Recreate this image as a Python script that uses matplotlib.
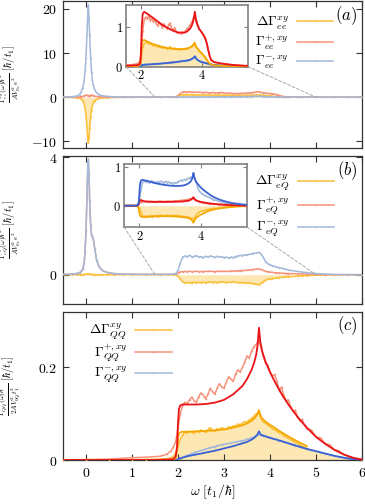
import numpy as np
import matplotlib
matplotlib.use("Agg")
import matplotlib.pyplot as plt
from matplotlib.patches import ConnectionPatch
from matplotlib.ticker import FuncFormatter

plt.rcParams['mathtext.fontset'] = 'cm'
plt.rcParams['font.family'] = 'serif'
plt.rcParams['font.serif'] = ['DejaVu Serif']

# ---- numerical data, panels (a) and (b) ----
w_pre = [-0.5, -0.3, -0.2, -0.14, -0.1, -0.07, -0.04, -0.02, 0.0, 0.02, 0.035, 0.05, 0.065,
         0.08, 0.1, 0.12, 0.14, 0.16, 0.19, 0.23, 0.28, 0.35, 0.45, 0.6, 0.8, 1.0, 1.3, 1.6,
         1.8, 1.9, 1.95, 2.0, 2.05]
w_band = [2.1, 2.15, 2.2, 2.25, 2.3, 2.35, 2.4, 2.45, 2.5, 2.55, 2.6, 2.65, 2.7, 2.75, 2.8,
          2.85, 2.9, 2.95, 3.0, 3.05, 3.1, 3.15, 3.2, 3.25, 3.3, 3.35, 3.4, 3.45, 3.5, 3.55,
          3.6, 3.65, 3.7, 3.75, 3.8, 3.85, 3.9, 3.95, 4.0, 4.05, 4.1, 4.15, 4.2, 4.25, 4.3,
          4.35, 4.4]
w_tail = [4.6, 4.7, 4.8, 5.0, 5.2, 5.4, 5.7, 6.0]

# panel (a): Delta, Gamma+, Gamma-
oa_pre = [0, -0.05, -0.12, -0.25, -0.45, -0.8, -1.5, -2.5, -4.2, -6.8, -9.0, -10.3, -9.2,
          -7.0, -4.5, -2.8, -1.8, -1.2, -0.75, -0.45, -0.28, -0.16, -0.09, -0.05, -0.02,
          -0.01, 0, 0.005, 0.01, 0.02, 0.05, 0.2, 0.5]
oa_band = [0.58, 0.62, 0.6, 0.57, 0.6, 0.55, 0.53, 0.56, 0.52, 0.5, 0.53, 0.49, 0.47, 0.5,
           0.48, 0.45, 0.47, 0.5, 0.46, 0.44, 0.47, 0.43, 0.45, 0.42, 0.44, 0.45, 0.43, 0.46,
           0.45, 0.47, 0.48, 0.5, 0.53, 0.57, 0.5, 0.44, 0.4, 0.36, 0.32, 0.27, 0.22, 0.17,
           0.12, 0.08, 0.05, 0.04, 0.03]
oa_tail = [0.02, 0.015, 0.01, 0.005, 0, 0, 0, 0]

ra_pre = [0.02, 0.03, 0.06, 0.09, 0.14, 0.2, 0.3, 0.4, 0.48, 0.5, 0.4, 0.32, 0.3, 0.35, 0.45,
          0.5, 0.45, 0.35, 0.25, 0.18, 0.12, 0.08, 0.05, 0.03, 0.02, 0.02, 0.03, 0.04, 0.06,
          0.08, 0.12, 0.35, 0.9]
ra_band = [1.18, 1.25, 1.2, 1.28, 1.15, 1.22, 1.12, 1.18, 1.08, 1.02, 1.12, 1.05, 0.98, 1.08,
           1.0, 0.95, 1.05, 1.1, 0.96, 0.9, 0.98, 0.88, 0.84, 0.86, 0.83, 0.88, 0.86, 0.9,
           0.95, 0.98, 1.05, 1.1, 1.2, 1.3, 1.12, 1.02, 0.95, 0.9, 0.84, 0.78, 0.7, 0.58,
           0.42, 0.26, 0.17, 0.13, 0.11]
ra_tail = [0.08, 0.07, 0.06, 0.04, 0.03, 0.02, 0.015, 0.01]

ba_pre = [0.05, 0.12, 0.3, 0.6, 1.3, 2.2, 3.8, 6.0, 9.0, 14.0, 18.0, 21.0, 18.0, 14.0, 9.0,
          5.8, 3.8, 2.7, 1.7, 1.0, 0.6, 0.35, 0.2, 0.1, 0.06, 0.04, 0.03, 0.02, 0.02, 0.02,
          0.02, 0.03, 0.04]
ba_band = [0.05, 0.06, 0.05, 0.06, 0.06, 0.07, 0.06, 0.07, 0.07, 0.08, 0.07, 0.08, 0.08, 0.09,
           0.09, 0.09, 0.1, 0.1, 0.11, 0.1, 0.11, 0.12, 0.12, 0.13, 0.13, 0.14, 0.14, 0.15,
           0.15, 0.16, 0.17, 0.19, 0.21, 0.24, 0.2, 0.16, 0.14, 0.12, 0.11, 0.1, 0.09, 0.08,
           0.07, 0.06, 0.05, 0.05, 0.04]
ba_tail = [0.03, 0.02, 0.015, 0.01, 0.01, 0.005, 0, 0]

# panel (b)
ob_pre = [0, 0, 0, 0, 0.005, 0.005, 0.01, 0.01, 0.015, 0.02, 0.025, 0.03, 0.025, 0.02, 0.015,
          0.01, 0.01, 0.005, 0.005, 0, 0, 0, 0, 0, 0, 0, 0, 0, 0, -0.005, -0.01, -0.05, -0.15]
ob_band = [-0.25, -0.28, -0.26, -0.29, -0.27, -0.25, -0.28, -0.26, -0.27, -0.25, -0.28, -0.26,
           -0.24, -0.27, -0.25, -0.27, -0.24, -0.26, -0.25, -0.27, -0.25, -0.26, -0.24, -0.26,
           -0.27, -0.26, -0.28, -0.27, -0.29, -0.28, -0.3, -0.31, -0.32, -0.34, -0.3, -0.24,
           -0.19, -0.16, -0.14, -0.13, -0.12, -0.11, -0.1, -0.09, -0.08, -0.075, -0.07]
ob_tail = [-0.05, -0.04, -0.03, -0.02, -0.01, -0.005, 0, 0]

rb_pre = [0.01, 0.02, 0.04, 0.07, 0.12, 0.2, 0.4, 0.8, 1.5, 2.6, 3.5, 3.9, 3.4, 2.5, 1.7,
          1.35, 1.28, 1.2, 0.88, 0.5, 0.28, 0.15, 0.08, 0.04, 0.02, 0.015, 0.01, 0.01, 0.01,
          0.02, 0.03, 0.06, 0.1]
rb_band = [0.1, 0.11, 0.1, 0.12, 0.1, 0.11, 0.12, 0.1, 0.11, 0.1, 0.12, 0.11, 0.12, 0.11, 0.1,
           0.12, 0.11, 0.12, 0.11, 0.12, 0.11, 0.13, 0.12, 0.13, 0.13, 0.14, 0.14, 0.15, 0.15,
           0.16, 0.17, 0.18, 0.19, 0.2, 0.18, 0.15, 0.12, 0.1, 0.09, 0.08, 0.07, 0.06, 0.06,
           0.05, 0.05, 0.04, 0.04]
rb_tail = [0.03, 0.025, 0.02, 0.01, 0.005, 0, 0, 0]

bb_pre = [0.01, 0.02, 0.04, 0.07, 0.12, 0.2, 0.4, 0.8, 1.5, 2.6, 3.5, 3.95, 3.4, 2.5, 1.7,
          1.35, 1.3, 1.22, 0.9, 0.5, 0.28, 0.15, 0.08, 0.04, 0.02, 0.015, 0.01, 0.01, 0.01,
          0.02, 0.04, 0.15, 0.4]
bb_band = [0.6, 0.64, 0.62, 0.66, 0.6, 0.63, 0.65, 0.6, 0.62, 0.58, 0.63, 0.6, 0.64, 0.62,
           0.59, 0.63, 0.6, 0.62, 0.58, 0.6, 0.57, 0.6, 0.58, 0.62, 0.64, 0.66, 0.65, 0.68,
           0.67, 0.7, 0.71, 0.73, 0.74, 0.76, 0.72, 0.6, 0.45, 0.38, 0.34, 0.31, 0.28, 0.26,
           0.24, 0.22, 0.2, 0.18, 0.16]
bb_tail = [0.11, 0.09, 0.07, 0.04, 0.02, 0.01, 0.005, 0]

# ---- theory curves (smooth), shared grid ----
w_th = [-0.5, 1.0, 1.5, 1.8, 1.9, 1.95, 1.98, 2.0, 2.02, 2.05, 2.1, 2.2, 2.4, 2.6, 2.8, 3.0,
        3.2, 3.4, 3.5, 3.6, 3.66, 3.7, 3.73, 3.76, 3.79, 3.83, 3.9, 4.0, 4.1, 4.15, 4.2,
        4.25, 4.3, 4.4, 4.6, 4.8, 5.0, 5.2, 5.4, 5.6, 5.8, 6.0]
ra_th = [0, 0.01, 0.02, 0.03, 0.04, 0.06, 0.15, 0.5, 1.0, 1.33, 1.38, 1.33, 1.22, 1.1, 1.0,
         0.92, 0.86, 0.85, 0.88, 0.95, 1.03, 1.12, 1.22, 1.38, 1.22, 1.1, 0.95, 0.85, 0.72,
         0.6, 0.42, 0.25, 0.16, 0.11, 0.08, 0.06, 0.04, 0.03, 0.02, 0.015, 0.01, 0.01]
oa_th = [0, 0, 0.005, 0.01, 0.015, 0.03, 0.08, 0.3, 0.55, 0.66, 0.67, 0.63, 0.56, 0.51, 0.47,
         0.45, 0.44, 0.44, 0.45, 0.48, 0.51, 0.54, 0.57, 0.6, 0.52, 0.47, 0.4, 0.32, 0.24,
         0.18, 0.12, 0.07, 0.05, 0.03, 0.02, 0.01, 0.005, 0, 0, 0, 0, 0]
ba_th = [0, 0, 0, 0, 0, 0, 0.01, 0.02, 0.03, 0.04, 0.045, 0.05, 0.06, 0.07, 0.085, 0.1, 0.12,
         0.14, 0.15, 0.17, 0.19, 0.21, 0.23, 0.26, 0.22, 0.18, 0.14, 0.11, 0.09, 0.08, 0.07,
         0.06, 0.05, 0.04, 0.025, 0.015, 0.01, 0.005, 0, 0, 0, 0]
bb_th = [0, 0, 0, 0, 0, 0.02, 0.08, 0.3, 0.55, 0.65, 0.67, 0.65, 0.61, 0.57, 0.54, 0.52, 0.51,
         0.52, 0.54, 0.58, 0.62, 0.67, 0.74, 0.85, 0.72, 0.64, 0.56, 0.47, 0.4, 0.37, 0.34,
         0.31, 0.28, 0.23, 0.16, 0.11, 0.07, 0.05, 0.03, 0.02, 0.01, 0.005]
rb_th = [0, 0, 0, 0, 0, 0.01, 0.04, 0.1, 0.14, 0.15, 0.13, 0.11, 0.1, 0.1, 0.1, 0.1, 0.105,
         0.11, 0.12, 0.13, 0.15, 0.17, 0.19, 0.22, 0.17, 0.14, 0.12, 0.1, 0.085, 0.08, 0.07,
         0.065, 0.06, 0.05, 0.035, 0.025, 0.015, 0.01, 0.005, 0, 0, 0]
ob_th = [0, 0, 0, 0, 0, -0.02, -0.08, -0.18, -0.25, -0.28, -0.29, -0.29, -0.28, -0.27, -0.27,
         -0.27, -0.28, -0.29, -0.3, -0.32, -0.34, -0.37, -0.4, -0.44, -0.38, -0.33, -0.28,
         -0.23, -0.19, -0.17, -0.15, -0.14, -0.12, -0.1, -0.07, -0.05, -0.03, -0.02, -0.01,
         -0.005, 0, 0]
rc_th = [0, 0, 0, 0.001, 0.002, 0.008, 0.03, 0.08, 0.11, 0.118, 0.12, 0.12, 0.12, 0.121,
         0.124, 0.13, 0.142, 0.16, 0.175, 0.195, 0.212, 0.228, 0.248, 0.286, 0.255, 0.235,
         0.213, 0.19, 0.17, 0.161, 0.152, 0.143, 0.135, 0.12, 0.093, 0.07, 0.05, 0.035,
         0.022, 0.012, 0.005, 0.001]
oc_th = [0, 0, 0, 0, 0, 0.005, 0.02, 0.045, 0.057, 0.06, 0.061, 0.061, 0.062, 0.063, 0.064,
         0.066, 0.07, 0.075, 0.079, 0.085, 0.09, 0.095, 0.1, 0.108, 0.097, 0.09, 0.083, 0.076,
         0.07, 0.066, 0.063, 0.06, 0.057, 0.051, 0.04, 0.03,
         np.nan, np.nan, np.nan, np.nan, np.nan, np.nan]
bc_th = [0, 0, 0, 0, 0, 0, 0.001, 0.002, 0.003, 0.004, 0.005, 0.008, 0.012, 0.016, 0.02,
         0.025, 0.03, 0.036, 0.039, 0.044, 0.048, 0.052, 0.056, 0.062, 0.056, 0.053, 0.051,
         0.048, 0.045, 0.044, 0.042, 0.041, 0.039, 0.036, 0.03, 0.024, 0.019, 0.014, 0.009,
         0.005, 0.002, 0]

# ---- numerical data, panel (c) ----
wc_pre = [-0.5, 0.0, 0.5, 1.0, 1.3, 1.6, 1.75, 1.85, 1.9, 1.95, 2.0, 2.05]
wc_band = [2.1, 2.15, 2.2, 2.25, 2.3, 2.35, 2.4, 2.45, 2.5, 2.55, 2.6, 2.65, 2.7, 2.75, 2.8,
           2.85, 2.9, 2.95, 3.0, 3.05, 3.1, 3.15, 3.2, 3.25, 3.3, 3.35, 3.4, 3.45, 3.5, 3.55,
           3.6, 3.65, 3.7, 3.75, 3.8, 3.85, 3.9, 3.95, 4.0, 4.05, 4.1, 4.15, 4.2, 4.25, 4.3,
           4.35, 4.4, 4.45, 4.5, 4.55, 4.6, 4.65, 4.7, 4.75, 4.8]
wc_tail = [4.9, 5.0, 5.1, 5.2, 5.3, 5.4, 5.5, 5.6, 5.7, 5.8, 5.9, 6.0]
rc_pre = [0, 0.001, 0.002, 0.005, 0.006, 0.008, 0.012, 0.02, 0.028, 0.04, 0.07, 0.1]
rc_band = [0.118, 0.125, 0.122, 0.13, 0.136, 0.128, 0.125, 0.137, 0.145, 0.14, 0.132, 0.142,
           0.155, 0.148, 0.142, 0.155, 0.165, 0.158, 0.155, 0.168, 0.18, 0.175, 0.17, 0.185,
           0.195, 0.19, 0.2, 0.212, 0.225, 0.22, 0.235, 0.245, 0.25, 0.258, 0.245, 0.225,
           0.21, 0.205, 0.19, 0.182, 0.185, 0.17, 0.15, 0.158, 0.14, 0.128, 0.13, 0.115,
           0.105, 0.108, 0.092, 0.085, 0.088, 0.075, 0.068]
rc_tail = [0.065, 0.05, 0.048, 0.035, 0.033, 0.022, 0.02, 0.012, 0.008, 0.005, 0.002, 0.001]
oc_pre = [0, 0, 0, 0.001, 0.001, 0.002, 0.003, 0.005, 0.008, 0.015, 0.03, 0.045]
oc_band = [0.055, 0.06, 0.058, 0.062, 0.06, 0.058, 0.063, 0.06, 0.065, 0.062, 0.06, 0.066,
           0.07, 0.064, 0.063, 0.068, 0.066, 0.07, 0.068, 0.066, 0.072, 0.07, 0.074, 0.073,
           0.078, 0.076, 0.08, 0.083, 0.082, 0.087, 0.09, 0.095, 0.1, 0.103, 0.09, 0.082,
           0.08, 0.075, 0.072, 0.068, 0.066, 0.062, 0.058, 0.057, 0.052, 0.05, 0.047, 0.044,
           0.042, 0.038, 0.036, 0.033, 0.03, 0.028, 0.025]
oc_tail = [0.021, 0.018, 0.015, 0.013, 0.011, 0.008, 0.006, 0.004, 0.003, 0.002, 0.001, 0]
bc_pre = [0, 0, 0, 0, 0, 0, 0, 0, 0, 0, 0.001, 0.003]
bc_band = [0.006, 0.008, 0.01, 0.012, 0.014, 0.016, 0.018, 0.019, 0.021, 0.022, 0.024, 0.025,
           0.027, 0.028, 0.029, 0.031, 0.032, 0.033, 0.034, 0.035, 0.036, 0.037, 0.038, 0.039,
           0.04, 0.041, 0.042, 0.043, 0.045, 0.046, 0.048, 0.05, 0.052, 0.054, 0.055, 0.054,
           0.052, 0.05, 0.048, 0.047, 0.045, 0.044, 0.042, 0.041, 0.039, 0.038, 0.036, 0.035,
           0.033, 0.031, 0.03, 0.028, 0.027, 0.025, 0.024]
bc_tail = [0.021, 0.019, 0.016, 0.014, 0.011, 0.009, 0.007, 0.005, 0.003, 0.002, 0.001, 0]

labels_a = [r'$\Delta\Gamma^{xy}_{ee}$', r'$\Gamma^{+,xy}_{ee}$', r'$\Gamma^{-,xy}_{ee}$']
labels_b = [r'$\Delta\Gamma^{xy}_{eQ}$', r'$\Gamma^{+,xy}_{eQ}$', r'$\Gamma^{-,xy}_{eQ}$']
labels_c = [r'$\Delta\Gamma^{xy}_{QQ}$', r'$\Gamma^{+,xy}_{QQ}$', r'$\Gamma^{-,xy}_{QQ}$']

# colours
C_O, C_R, C_B = '#fbc03a', '#f7927a', '#a3b9da'      # numerical (light)
T_O, T_R, T_B = '#f5a800', '#ea1418', '#3a62d2'      # theory (dark)
FILL = '#fde8b4'
FRAME = '#333333'

w_ab = np.array(w_pre + w_band + w_tail)
w_c = np.array(wc_pre + wc_band + wc_tail)
w_t = np.array(w_th)

mfmt = FuncFormatter(lambda v, p: f"${v:g}$")


def style(ax, frame=FRAME, lw=0.9, size=10, length=4):
    for s in ax.spines.values():
        s.set_color(frame)
        s.set_linewidth(lw)
    ax.tick_params(direction='in', top=True, right=True, length=length, width=0.8,
                   color=frame, labelsize=size, pad=4)
    ax.xaxis.set_major_formatter(mfmt)
    ax.yaxis.set_major_formatter(mfmt)


def numeric(ax, w, o, r, b, order=('o', 'r', 'b'), o_mask=None):
    ax.fill_between(w, 0, o, color=FILL, lw=0, zorder=1)
    kw = dict(lw=1.1, marker='.', ms=2.2, mew=0)
    wo, oo = (w, o) if o_mask is None else (w[o_mask], np.asarray(o)[o_mask])
    h = {}
    h['o'], = ax.plot(wo, oo, color=C_O, zorder=2 + order.index('o'), **kw)
    h['r'], = ax.plot(w, r, color=C_R, zorder=2 + order.index('r'), **kw)
    h['b'], = ax.plot(w, b, color=C_B, zorder=2 + order.index('b'), **kw)
    return [h['o'], h['r'], h['b']]


def theory(ax, o, r, b, order=('b', 'o', 'r')):
    for key, y, c in (('o', o, T_O), ('r', r, T_R), ('b', b, T_B)):
        ax.plot(w_t, y, color=c, lw=1.3, zorder=6 + order.index(key))


def legend(ax, handles, labels, anchor, spacing=0.15):
    ax.legend(handles, labels, loc='upper left', bbox_to_anchor=anchor, frameon=False,
              markerfirst=False, handlelength=2.6, handletextpad=0.6, labelspacing=spacing,
              borderaxespad=0.2, fontsize=10, numpoints=1)


fig = plt.figure(figsize=(3.65, 5.04), dpi=100)
axA = fig.add_axes([0.1726, 0.7063, 0.8192, 0.2917])
axB = fig.add_axes([0.1726, 0.3968, 0.8192, 0.2937])
axC = fig.add_axes([0.1726, 0.0873, 0.8192, 0.2937])
inA = fig.add_axes([0.345, 0.868, 0.334, 0.122])
inB = fig.add_axes([0.3397, 0.5496, 0.337, 0.125])

oa = oa_pre + oa_band + oa_tail
ra = ra_pre + ra_band + ra_tail
ba = ba_pre + ba_band + ba_tail
ob = ob_pre + ob_band + ob_tail
rb = rb_pre + rb_band + rb_tail
bb = bb_pre + bb_band + bb_tail

YL = 7.5
YX = -0.135

# panel (a)
hA = numeric(axA, w_ab, oa, ra, ba)
axA.set_xlim(-0.5, 6)
axA.set_ylim(-11.5, 21.8)
axA.set_xticks(range(7))
axA.set_yticks([-10, 0, 10, 20])
style(axA)
axA.tick_params(labelbottom=False)
axA.set_ylabel(r'$\frac{\Gamma^{xy}_{ee}(\omega)\hbar^2}{AV_{0e}^2e^2}\ [\hbar/t_1]$', fontsize=YL)
axA.yaxis.set_label_coords(YX, 0.5)
axA.text(0.985, 0.9, r'$(a)$', transform=axA.transAxes, ha='right', va='center', fontsize=12)
legend(axA, hA, labels_a, (0.615, 0.965))

numeric(inA, w_ab, oa, ra, ba)
theory(inA, oa_th, ra_th, ba_th)
inA.set_xlim(1.5, 5.5)
inA.set_ylim(0, 1.55)
inA.set_xticks([2, 4])
inA.set_yticks([0, 1])
style(inA, frame='#808080', lw=1.2, size=9, length=3)
inA.tick_params(pad=2)

# panel (b)
hB = numeric(axB, w_ab, ob, rb, bb, order=('o', 'r', 'b'))
axB.set_xlim(-0.5, 6)
axB.set_ylim(-1.0, 4.05)
axB.set_xticks(range(7))
axB.set_yticks([0, 4])
style(axB)
axB.tick_params(labelbottom=False)
axB.set_ylabel(r'$\frac{\Gamma^{xy}_{eQ}(\omega)\hbar^2}{AV_{0e}^2e^2}\ [\hbar/t_1]$', fontsize=YL)
axB.yaxis.set_label_coords(YX, 0.5)
axB.text(0.985, 0.9, r'$(b)$', transform=axB.transAxes, ha='right', va='center', fontsize=12)
legend(axB, hB, labels_b, (0.615, 0.94))

numeric(inB, w_ab, ob, rb, bb)
theory(inB, ob_th, rb_th, bb_th, order=('o', 'r', 'b'))
inB.set_xlim(1.5, 5.5)
inB.set_ylim(-0.55, 1.08)
inB.set_xticks([2, 4])
inB.set_yticks([0, 1])
style(inB, frame='#808080', lw=1.2, size=9, length=3)
inB.tick_params(pad=2)

# panel (c)
oc = oc_pre + oc_band + oc_tail
rc = rc_pre + rc_band + rc_tail
bc = bc_pre + bc_band + bc_tail
hC = numeric(axC, w_c, oc, rc, bc, order=('b', 'o', 'r'), o_mask=w_c <= 4.85)
theory(axC, oc_th, rc_th, bc_th)
axC.set_xlim(-0.5, 6)
axC.set_ylim(0, 0.32)
axC.set_xticks(range(7))
axC.set_yticks([0, 0.2])
style(axC)
axC.set_xlabel(r'$\omega\ [t_1/\hbar]$', fontsize=10, labelpad=2)
axC.set_ylabel(r'$\frac{\Gamma^{xy}_{QQ}(\omega)\hbar^2}{2AV_{0Q}^2t_1^2}\ [\hbar/t_1]$', fontsize=YL)
axC.yaxis.set_label_coords(YX, 0.5)
axC.text(0.985, 0.905, r'$(c)$', transform=axC.transAxes, ha='right', va='center', fontsize=12)
legend(axC, hC, labels_c, (0.06, 0.99), spacing=0.05)

# dashed connectors from insets to the zoomed range
for ins, ax in ((inA, axA), (inB, axB)):
    for xa, xb in ((0, 1.5), (1, 5.0)):
        con = ConnectionPatch(xyA=(xa, 0), coordsA=ins.transAxes, xyB=(xb, 0),
                              coordsB=ax.transData, linestyle=(0, (3, 2)),
                              color='#a8a8a8', lw=0.7)
        fig.add_artist(con)

fig.savefig('out.png', dpi=100)
